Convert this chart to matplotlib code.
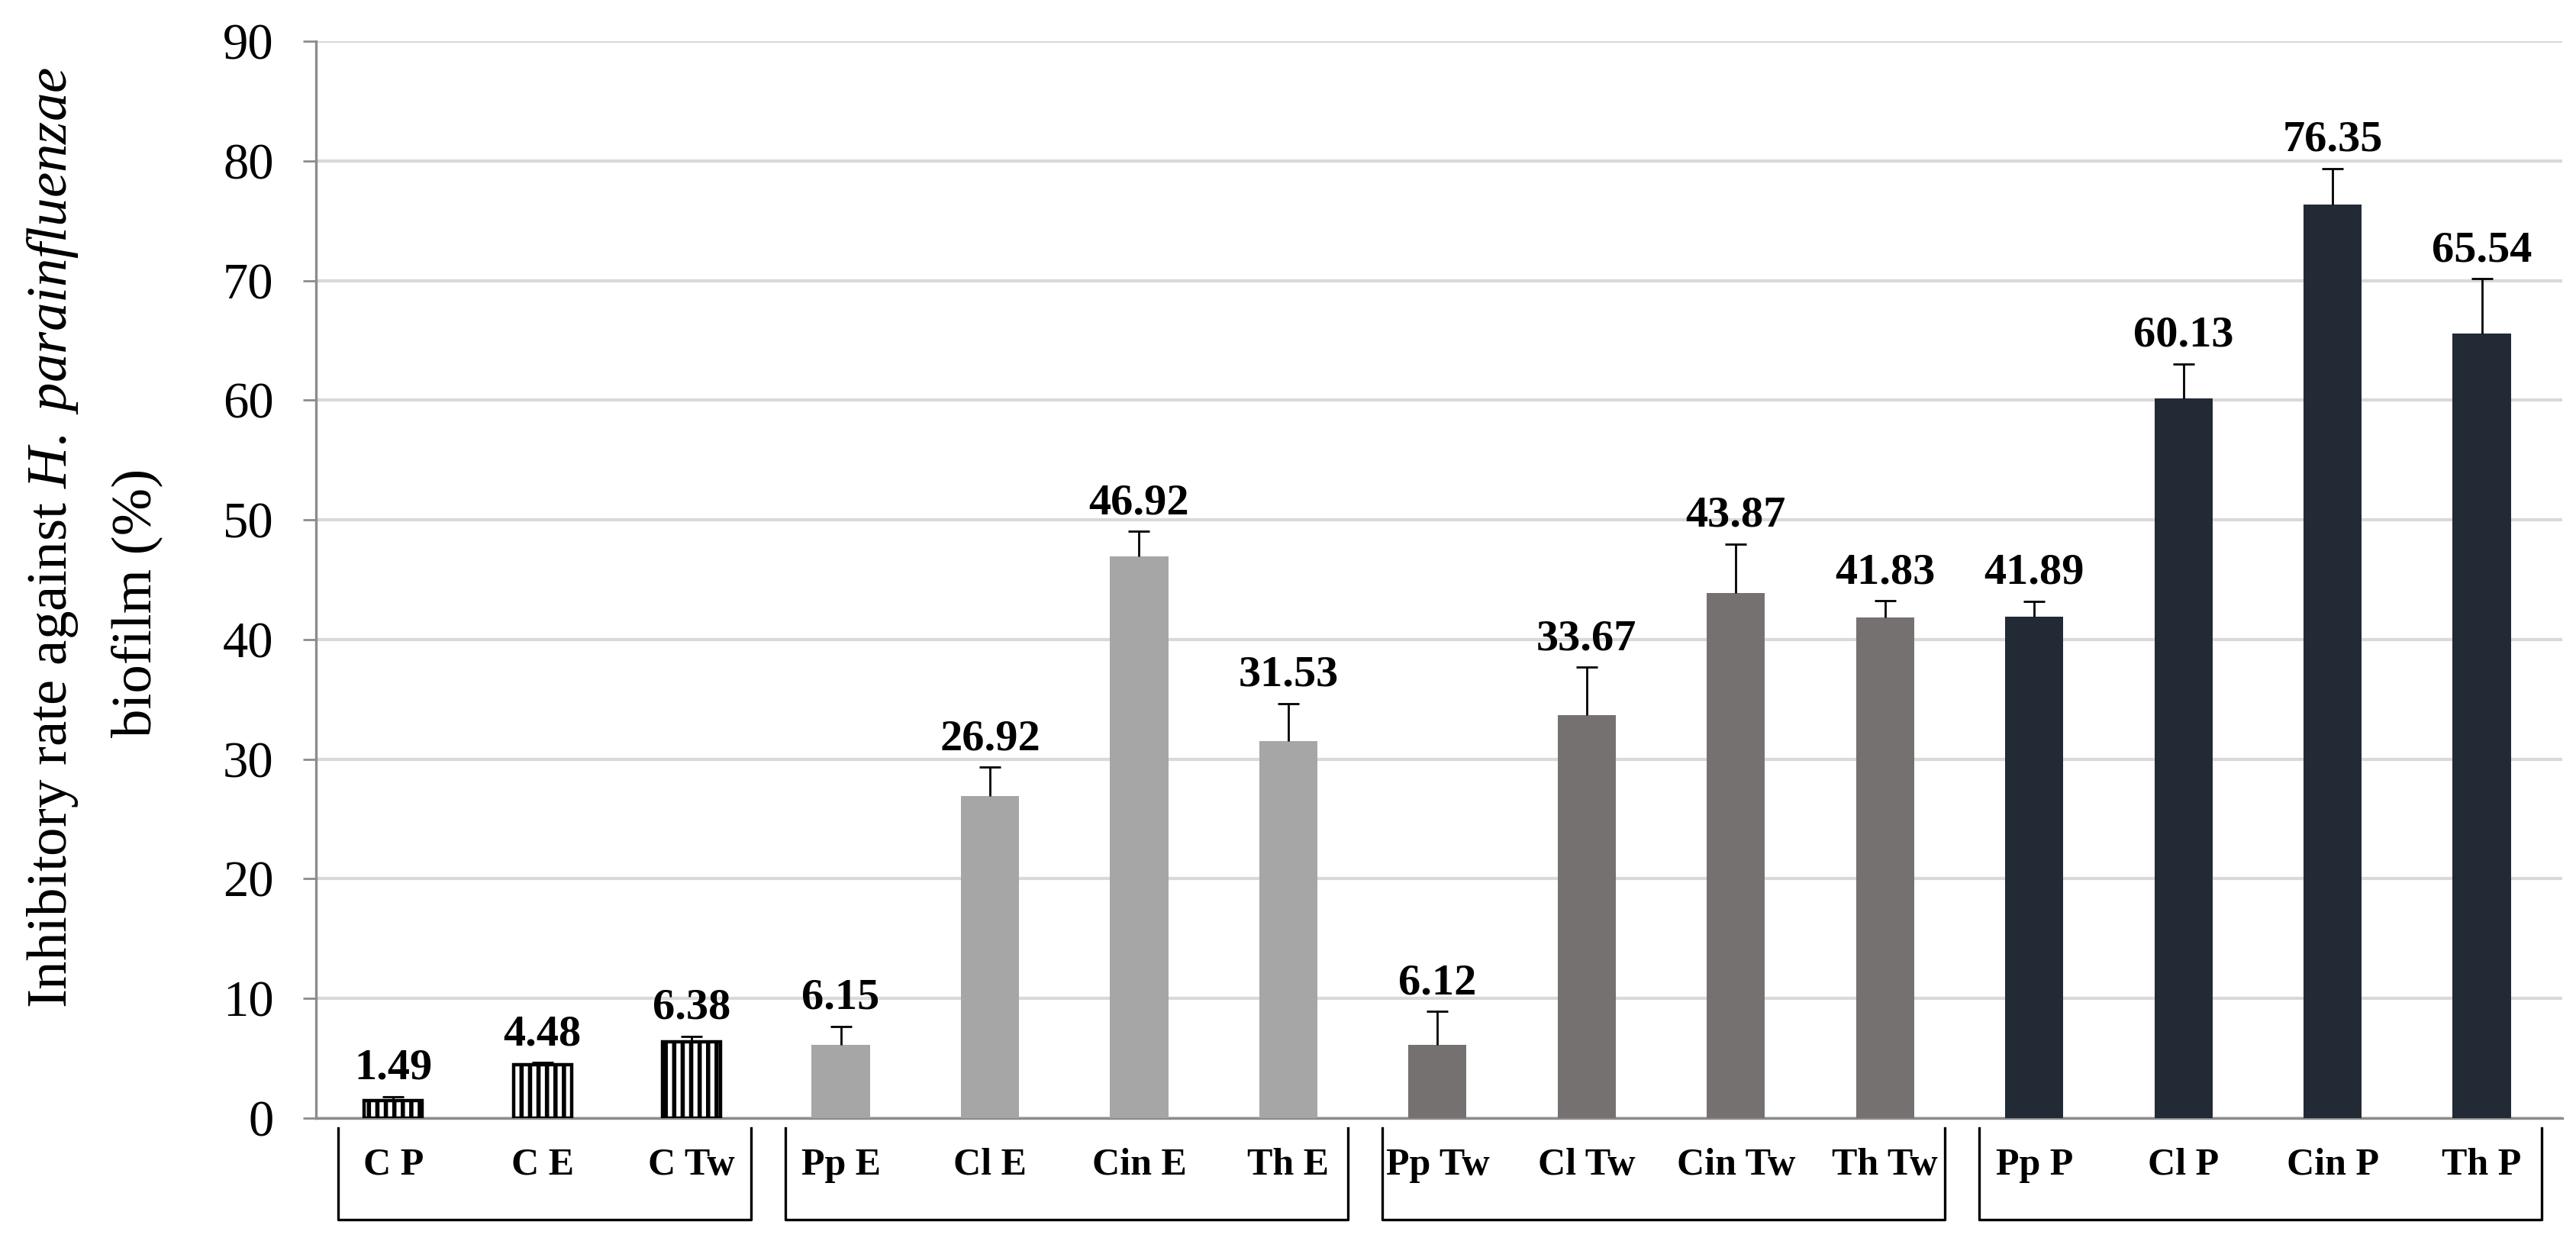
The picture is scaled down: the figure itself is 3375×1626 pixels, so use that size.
import numpy as np
import matplotlib
matplotlib.use("Agg")
import matplotlib.pyplot as plt

# ---------------------------------------------------------------------------#
# --------------------------- Chart Data ------------------------------------#

labels = ["C P", "C E", "C Tw", "Pp E", "Cl E", "Cin E", "Th E",
          "Pp Tw", "Cl Tw", "Cin Tw", "Th Tw", "Pp P", "Cl P", "Cin P", "Th P"]
values = [1.49, 4.48, 6.38, 6.15, 26.92, 46.92, 31.53,
          6.12, 33.67, 43.87, 41.83, 41.89, 60.13, 76.35, 65.54]
errors = [0.3, 0.15, 0.45, 1.5, 2.4, 2.1, 3.1,
          2.8, 4.0, 4.1, 1.4, 1.3, 2.9, 3.0, 4.6]
# group of each bar: control, ethanol, tween, propylene
groups = [0, 0, 0, 1, 1, 1, 1, 2, 2, 2, 2, 3, 3, 3, 3]
yticks = [0, 10, 20, 30, 40, 50, 60, 70, 80, 90]

groupColors = ["white", "#a6a6a6", "#767171", "#222a35"]

# ---------------------------------------------------------------------------#
# ----------------------------- Styling -------------------------------------#

plt.rcParams["font.family"] = ["Liberation Serif", "DejaVu Serif"]
plt.rcParams["mathtext.fontset"] = "custom"
plt.rcParams["mathtext.rm"] = "Liberation Serif"
plt.rcParams["mathtext.it"] = "Liberation Serif:italic"
plt.rcParams["hatch.linewidth"] = 2.0

fig = plt.figure(figsize=(16.875, 8.13), dpi=200)
ax = fig.add_axes([0.1227, 0.099, 0.872, 0.8678])

x = np.arange(len(labels))
barColors = [groupColors[g] for g in groups]

for i in range(len(x)):
    if groups[i] == 0:
        ax.bar(x[i], values[i], width=0.39, color="white", edgecolor="black",
               linewidth=1.6, hatch="|||", zorder=3)
    else:
        ax.bar(x[i], values[i], width=0.39, color=barColors[i], zorder=3)

# upper error bars only
eb = ax.errorbar(x, values, yerr=[np.zeros(len(x)), errors], fmt="none",
                 ecolor="black", elinewidth=1.0, capsize=5, capthick=1.0, zorder=4)
eb[1][0].set_visible(False)

# value labels above the error bars
for xi, v, e in zip(x, values, errors):
    ax.annotate(f"{v:.2f}", (xi, v + e), xytext=(0, 4), textcoords="offset points",
                ha="center", va="bottom", fontsize=21, fontweight="bold")

# axes
ax.set_xlim(-0.517, 14.54)
ax.set_ylim(0, 90)
ax.set_yticks(yticks)
ax.set_yticklabels([str(t) for t in yticks], fontsize=24)
ax.yaxis.grid(True, color="#d9d9d9", linewidth=1.5, zorder=0)
ax.set_axisbelow(True)
ax.tick_params(axis="y", direction="out", length=6, width=1, color="#8c8c8c", pad=14)
ax.set_xticks(x)
ax.set_xticklabels(labels, fontsize=18, fontweight="bold")
ax.tick_params(axis="x", length=0, pad=14)
for side in ["top", "right"]:
    ax.spines[side].set_visible(False)
ax.spines["left"].set_color("#8c8c8c")
ax.spines["bottom"].set_color("#8c8c8c")
ax.spines["left"].set_linewidth(1.2)
ax.spines["bottom"].set_linewidth(1.2)

# group brackets under the category labels
for g in sorted(set(groups)):
    members = [i for i in range(len(groups)) if groups[i] == g]
    left = members[0] - 0.37
    right = members[-1] + 0.40
    ax.plot([left, left, right, right], [-0.85, -8.5, -8.5, -0.85],
            color="black", linewidth=1.2, clip_on=False, zorder=5)

# y axis title (two lines as laid out in the source)
fig.text(0.0205, 0.567, "Inhibitory rate against $H.\\ parainfluenzae$",
         rotation=90, ha="center", va="center", fontsize=27)
fig.text(0.053, 0.514, "biofilm (%)", rotation=90, ha="center", va="center", fontsize=27)

fig.savefig("out.png", dpi=200)
